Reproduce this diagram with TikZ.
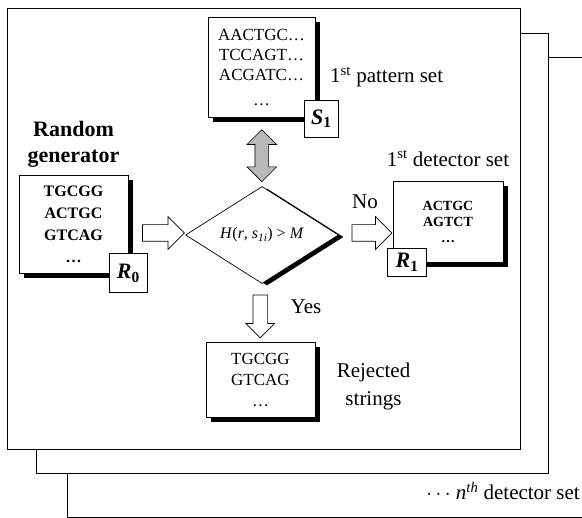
\documentclass[tikz,border=0pt]{standalone}
\usepackage{fontspec}
\setmainfont{Liberation Serif}
\usepackage{tikz}
\usetikzlibrary{
  arrows.meta,calc,positioning,shapes.geometric,
  shapes.arrows,shadows
}

\begin{document}
\begin{tikzpicture}[
  x=1pt,y=-1pt,
  every node/.style={inner sep=0pt},
  frame/.style={draw,line width=0.9pt,fill=white},
  setbox/.style={
    draw,line width=0.7pt,fill=white,align=center,
    drop shadow={shadow xshift=5pt,shadow yshift=-5pt,fill=black,opacity=1}
  },
  tagbox/.style={
    draw,line width=0.7pt,fill=white,
    font=\fontsize{22}{24}\selectfont\bfseries\itshape
  },
  blockarrow/.style={
    single arrow,draw,line width=0.7pt,fill=white,
    inner sep=8pt,single arrow head extend=8pt
  },
  caption/.style={align=center,font=\fontsize{21}{28}\selectfont}
]
  \useasboundingbox (0,0) rectangle (582,518);
  \clip (0,0) rectangle (582,518);

  \draw[frame] (67,57) rectangle (600,517);
  \draw[frame] (36,33) rectangle (548,473);
  \draw[frame] (7,8) rectangle (520,449);

  \node[setbox,minimum width=109pt,minimum height=98pt,
    font=\fontsize{16}{22}\selectfont\bfseries] (gen) at (73.5,224)
    {TGCGG\\ACTGC\\GTCAG\\\dots};
  \node[setbox,minimum width=107pt,minimum height=100pt,
    font=\fontsize{17}{20}\selectfont] (pat) at (261.5,67)
    {AACTGC\dots\\TCCAGT\dots\\ACGATC\dots\\[5pt]\dots};
  \node[diamond,draw,line width=0.7pt,fill=white,aspect=1.58,
    minimum width=153pt,minimum height=97pt,
    font=\fontsize{16}{18}\selectfont,
    drop shadow={shadow xshift=5pt,shadow yshift=-2pt,fill=black,opacity=1}]
    (test) at (262,235)
    {\textit{H}(\textit{r},~\textit{s}\textsubscript{\textit{1i}})~>~\textit{M}};
  \node[setbox,minimum width=110pt,minimum height=81pt,
    font=\fontsize{14}{16}\selectfont\bfseries] (det) at (448,221.5)
    {ACTGC\\AGTCT\\\dots};
  \node[setbox,minimum width=109pt,minimum height=75pt,
    font=\fontsize{17}{21}\selectfont] (rej) at (260.5,379.5)
    {TGCGG\\GTCAG\\\dots};

  \node[tagbox,minimum width=38pt,minimum height=39pt] (genlab)
    at (gen.south east) {R\textsubscript{\upshape 0}};
  \node[tagbox,minimum width=34pt,minimum height=37pt] (patlab)
    at ($(pat.south east)+(6pt,-1.5pt)$) {S\textsubscript{\upshape 1}};
  \node[tagbox,minimum width=39pt,minimum height=28pt] (detlab)
    at ($(det.south west)+(14.5pt,0pt)$) {R\textsubscript{\upshape 1}};

  \node[blockarrow,minimum height=42pt] (genarrow)
    at ($(gen.east |- test.west)!0.5!(test.west)+(2.5pt,2pt)$) {};
  \node[blockarrow,minimum height=40pt] (noarrow)
    at ($(test.east)!0.5!(det.west |- test.east)+(2pt,2pt)$) {};
  \node[blockarrow,minimum height=43pt,inner sep=7pt,
    single arrow head extend=7pt,shape border rotate=270] (yesarrow)
    at ($(test.south)!0.5!(rej.north)+(-1pt,0pt)$) {};
  \node[double arrow,draw,line width=0.7pt,fill=gray!55,
    inner sep=6.5pt,double arrow head extend=8pt,
    minimum height=52pt,shape border rotate=90] (patarrow)
    at ($(pat.south)!0.5!(test.north)+(0pt,-4pt)$) {};

  \node[caption,font=\fontsize{22}{26}\selectfont\bfseries,
    above=7pt of gen] (randcap) {Random\\generator};
  \node[caption,anchor=west] (patcap) at (330,77)
    {1\textsuperscript{st} pattern set};
  \node[caption,above=14pt of det] (detcap)
    {1\textsuperscript{st} detector set};
  \node[caption] (nocap) at (365,202) {No};
  \node[caption] (yescap) at (306,307) {Yes};
  \node[caption] (rejcap) at (373.5,386) {Rejected\\strings};
  \node[caption,anchor=base east] (ncap) at (580,500)
    {$\cdots$ \textit{n}\textsuperscript{\textit{th}} detector set};
\end{tikzpicture}
\end{document}
